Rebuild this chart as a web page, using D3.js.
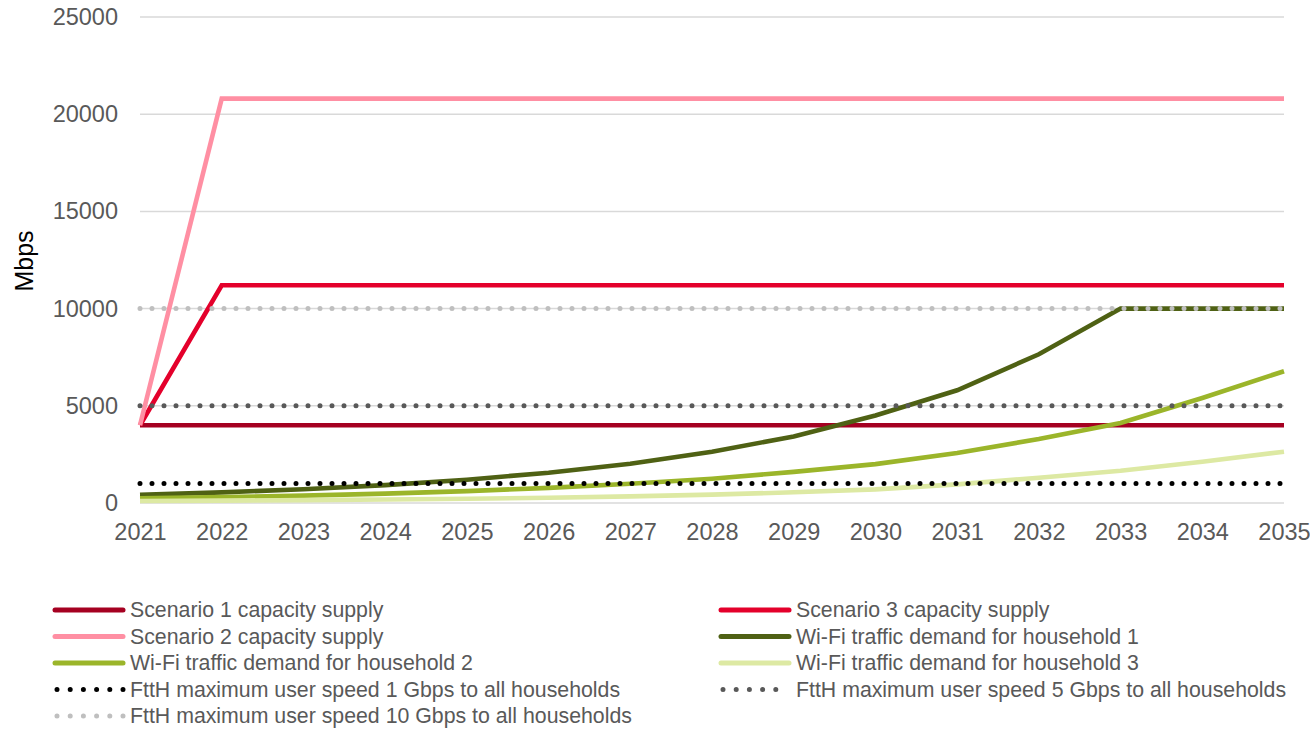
<!DOCTYPE html>
<html><head><meta charset="utf-8">
<script src="https://cdn.jsdelivr.net/npm/d3@7"></script>
<style>body{margin:0;background:#fff;} svg{display:block;font-family:"Liberation Sans",Arial,sans-serif;}</style>
</head><body><svg id="c" width="1310" height="740"></svg>
<script>
const years = [2021,2022,2023,2024,2025,2026,2027,2028,2029,2030,2031,2032,2033,2034,2035];
const yTicks = [0,5000,10000,15000,20000,25000];
const seriesNames = [
  "Scenario 1 capacity supply","Scenario 3 capacity supply",
  "Scenario 2 capacity supply","Wi-Fi traffic demand for household 1",
  "Wi-Fi traffic demand for household 2","Wi-Fi traffic demand for household 3",
  "FttH maximum user speed 1 Gbps to all households","FttH maximum user speed 5 Gbps to all households",
  "FttH maximum user speed 10 Gbps to all households"];
const scenario1 = [4000,4000,4000,4000,4000,4000,4000,4000,4000,4000,4000,4000,4000,4000,4000];
const scenario3 = [4000,11200,11200,11200,11200,11200,11200,11200,11200,11200,11200,11200,11200,11200,11200];
const scenario2 = [4000,20800,20800,20800,20800,20800,20800,20800,20800,20800,20800,20800,20800,20800,20800];
const household1 = [420,545,710,920,1200,1560,2020,2640,3420,4500,5800,7650,10000,10000,10000];
const household2 = [240,300,380,480,610,780,990,1250,1600,2000,2570,3290,4120,5400,6780];
const household3 = [100,120,150,180,220,270,340,430,550,700,960,1300,1660,2120,2640];
const ftth1 = [1000,1000,1000,1000,1000,1000,1000,1000,1000,1000,1000,1000,1000,1000,1000];
const ftth5 = [5000,5000,5000,5000,5000,5000,5000,5000,5000,5000,5000,5000,5000,5000,5000];
const ftth10 = [10000,10000,10000,10000,10000,10000,10000,10000,10000,10000,10000,10000,10000,10000,10000];
const seriesValues = [scenario1,scenario3,scenario2,household1,household2,household3,ftth1,ftth5,ftth10];
const colors = ["#a50021","#e4002b","#ff8fa3","#4f6114","#9bb52a","#dde9a3","#000000","#595959","#bfbfbf"];
const dotted = [false,false,false,false,false,false,true,true,true];

const svg = d3.select("#c");
const x = d3.scaleLinear().domain([2021,2035]).range([140,1284]);
const y = d3.scaleLinear().domain([0,25000]).range([503,17]);

// grid
svg.append("g").selectAll("line").data(yTicks).join("line")
  .attr("x1",140).attr("x2",1284).attr("y1",d=>y(d)).attr("y2",d=>y(d))
  .attr("stroke","#d9d9d9").attr("stroke-width",1.5);

const yAxis = svg.append("g").attr("transform","translate(140,0)")
  .call(d3.axisLeft(y).tickValues(yTicks).tickFormat(d3.format("d")).tickSize(0).tickPadding(22));
yAxis.select(".domain").remove();
yAxis.selectAll("text").attr("font-size",23.5).attr("fill","#595959").attr("font-family","Liberation Sans, Arial, sans-serif");

const xAxis = svg.append("g").attr("transform","translate(0,503)")
  .call(d3.axisBottom(x).tickValues(years).tickFormat(d3.format("d")).tickSize(0).tickPadding(20));
xAxis.select(".domain").remove();
xAxis.selectAll("text").attr("font-size",23.5).attr("fill","#595959").attr("font-family","Liberation Sans, Arial, sans-serif");

svg.append("text").attr("transform","translate(33,261) rotate(-90)").attr("text-anchor","middle")
  .attr("font-size",25).attr("fill","#000").text("Mbps");

const line = d3.line().x((d,i)=>x(years[i])).y(d=>y(d));
seriesValues.forEach((vals,k)=>{
  const p = svg.append("path").attr("d",line(vals)).attr("fill","none")
    .attr("stroke",colors[k]).attr("stroke-linejoin","miter");
  if(dotted[k]) p.attr("stroke-width",5).attr("stroke-linecap","round").attr("stroke-dasharray","0,12");
  else p.attr("stroke-width",4.6);
});

// legend
const lg = svg.append("g");
seriesNames.forEach((name,k)=>{
  const col = k%2, row = Math.floor(k/2);
  const lx = col===0 ? 55 : 721;
  const ly = 610 + row*26.5;
  const l = lg.append("line").attr("x1",lx).attr("x2",lx+68).attr("y1",ly).attr("y2",ly)
    .attr("stroke",colors[k]);
  if(dotted[k]) l.attr("stroke-width",5).attr("stroke-linecap","round").attr("stroke-dasharray","0,13.2").attr("x1",lx+2).attr("x2",lx+68);
  else l.attr("stroke-width",5).attr("stroke-linecap","round");
  lg.append("text").attr("x",lx+75).attr("y",ly).attr("dy","0.35em")
    .attr("font-size",21.3).attr("fill","#595959").text(name);
});
</script></body></html>
